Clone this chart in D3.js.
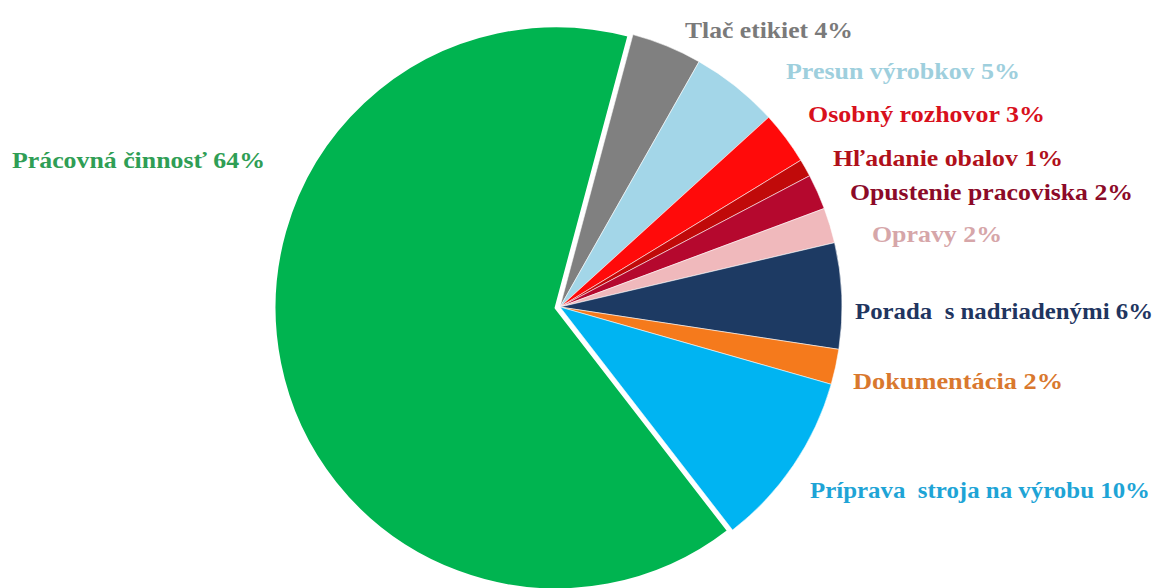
<!DOCTYPE html>
<html>
<head>
<meta charset="utf-8">
<script src="https://cdn.jsdelivr.net/npm/d3@7"></script>
<style>
  html, body { margin: 0; padding: 0; background: #fff; }
  svg { display: block; }
  text { font-family: "Liberation Serif", "Times New Roman", serif; font-weight: bold; }
</style>
</head>
<body>
<svg id="chart" width="1159" height="588"></svg>
<script>
// Activity categories, clockwise from the top of the pie
const categories = [
  "Tlač etikiet",
  "Presun výrobkov",
  "Osobný rozhovor",
  "Hľadanie obalov",
  "Opustenie pracoviska",
  "Opravy",
  "Porada  s nadriadenými",
  "Dokumentácia",
  "Príprava  stroja na výrobu",
  "Prácovná činnosť"
];
// Share of working time, percent
const shares = [4, 5, 3, 1, 2, 2, 6, 2, 10, 64];

// Slice fills and label colours
const sliceColors = ["#808080", "#A3D6E8", "#FF0A0A", "#C00A0A", "#B5082E", "#F0B9BC",
                     "#1D3A63", "#F57A1C", "#00B4F2", "#00B450"];
const labelColors = ["#7A7A7A", "#9ECFDD", "#D8101C", "#B0101A", "#8C0A28", "#D6A6A9",
                     "#1F3560", "#D9782E", "#1EA4D6", "#2F9E55"];
// Label anchor (left x, baseline y) and rendered width
const labelLayout = [
  [685, 38, 168], [786, 79, 234], [808, 122, 237], [833, 166, 230], [850, 200, 283],
  [872, 242, 130], [855, 319, 298], [853, 389, 210], [810, 498, 340], [12, 168, 253]
];

const svg = d3.select("#chart");
const cx = 560, cy = 307, radius = 282;
const explodeIndex = 9;   // main working activity is pulled out of the pie
const explodeDist = 4;

const pie = d3.pie()
  .sort(null)
  .value(d => d)
  .startAngle(15 * Math.PI / 180)
  .endAngle(15 * Math.PI / 180 + 2 * Math.PI);

const arcs = pie(shares);
const arc = d3.arc().innerRadius(0).outerRadius(radius);

const g = svg.append("g").attr("transform", `translate(${cx},${cy})`);

g.selectAll("path.slice")
  .data(arcs)
  .join("path")
  .attr("class", "slice")
  .attr("d", arc)
  .attr("fill", (d, i) => sliceColors[i])
  .attr("stroke", "#ffffff")
  .attr("stroke-opacity", (d, i) => i === explodeIndex ? 1 : 0.55)
  .attr("stroke-width", (d, i) => i === explodeIndex ? 3 : 1)
  .attr("stroke-linejoin", "round")
  .attr("transform", (d, i) => {
    if (i !== explodeIndex) return null;
    const mid = (d.startAngle + d.endAngle) / 2;
    return `translate(${Math.sin(mid) * explodeDist},${-Math.cos(mid) * explodeDist})`;
  });

svg.selectAll("text.label")
  .data(arcs)
  .join("text")
  .attr("class", "label")
  .attr("x", (d, i) => labelLayout[i][0])
  .attr("y", (d, i) => labelLayout[i][1])
  .attr("textLength", (d, i) => labelLayout[i][2])
  .attr("lengthAdjust", "spacingAndGlyphs")
  .attr("font-size", 23)
  .attr("fill", (d, i) => labelColors[i])
  .style("white-space", "pre")
  .text((d, i) => `${categories[i]} ${d.data}%`);
</script>
</body>
</html>
